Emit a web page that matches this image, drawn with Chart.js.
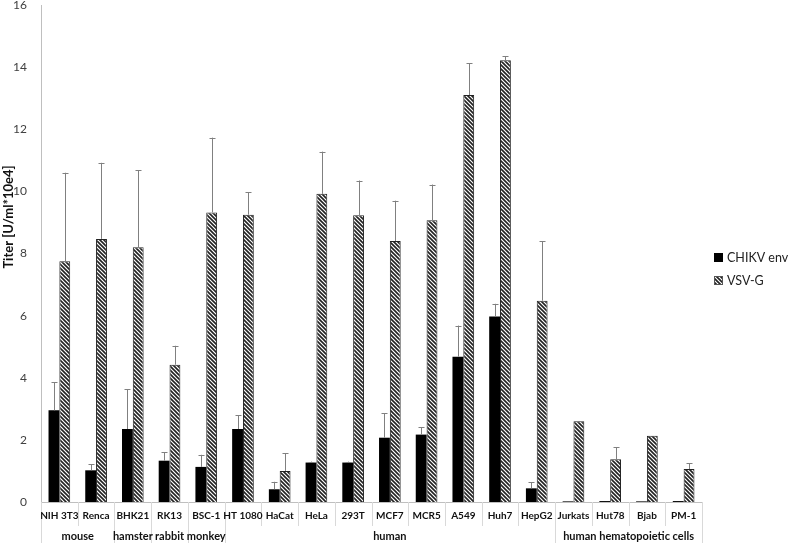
<!DOCTYPE html>
<html>
<head>
<meta charset="utf-8">
<script src="https://cdn.jsdelivr.net/npm/chart.js@4/dist/chart.umd.min.js"></script>
<style>
  html, body { margin: 0; padding: 0; background: #fff; }
  #wrap { width: 791px; height: 543px; }
</style>
</head>
<body>
<div id="wrap"><canvas id="titerChart"></canvas></div>
<script>
const cells = ["NIH 3T3", "Renca", "BHK21", "RK13", "BSC-1", "HT 1080", "HaCat", "HeLa", "293T",
  "MCF7", "MCR5", "A549", "Huh7", "HepG2", "Jurkats", "Hut78", "Bjab", "PM-1"];
const chikv = [2.95, 1.02, 2.35, 1.33, 1.13, 2.35, 0.41, 1.27, 1.27, 2.07, 2.17, 4.68, 5.97, 0.44, 0.02, 0.03, 0.02, 0.03];
const chikvErr = [0.9, 0.2, 1.28, 0.27, 0.39, 0.45, 0.24, 0.03, 0.03, 0.78, 0.24, 1.0, 0.41, 0.2, 0, 0, 0, 0];
const vsvg = [7.75, 8.47, 8.2, 4.42, 9.32, 9.25, 1.0, 9.92, 9.23, 8.4, 9.07, 13.1, 14.22, 6.48, 2.6, 1.38, 2.13, 1.06];
const vsvgErr = [2.85, 2.45, 2.48, 0.61, 2.41, 0.73, 0.57, 1.36, 1.12, 1.3, 1.15, 1.03, 0.13, 1.92, 0, 0.38, 0, 0.19];
// species groups: [label, first index, last index]
const groups = [["mouse", 0, 1], ["hamster", 2, 2], ["rabbit", 3, 3], ["monkey", 4, 4],
  ["human", 5, 13], ["human hematopoietic cells", 14, 17]];
const yTicks = [0, 2, 4, 6, 8, 10, 12, 14, 16];

const FONT = "Lato, 'Open Sans', sans-serif";

// diagonal hatch for VSV-G
function hatch() {
  const c = document.createElement("canvas");
  c.width = 4; c.height = 4;
  const g = c.getContext("2d");
  g.fillStyle = "#fff";
  g.fillRect(0, 0, 4, 4);
  g.strokeStyle = "#222";
  g.lineWidth = 1.6;
  g.beginPath();
  g.moveTo(-1, -1); g.lineTo(5, 5);
  g.moveTo(-1, 3); g.lineTo(1, 5);
  g.moveTo(3, -1); g.lineTo(5, 1);
  g.stroke();
  return g.createPattern(c, "repeat");
}
const hatchFill = hatch();

const extras = {
  id: "extras",
  afterDatasetsDraw(chart) {
    const ctx = chart.ctx;
    const y = chart.scales.y;
    // error bars (upper only)
    [chikvErr, vsvgErr].forEach((errs, di) => {
      const meta = chart.getDatasetMeta(di);
      meta.data.forEach((bar, i) => {
        if (!errs[i]) return;
        const val = chart.data.datasets[di].data[i];
        const top = y.getPixelForValue(val + errs[i]);
        ctx.save();
        ctx.strokeStyle = "#808080";
        ctx.lineWidth = 1;
        ctx.beginPath();
        ctx.moveTo(Math.round(bar.x) + 0.5, bar.y);
        ctx.lineTo(Math.round(bar.x) + 0.5, top);
        ctx.moveTo(Math.round(bar.x) - 2.5, Math.round(top) + 0.5);
        ctx.lineTo(Math.round(bar.x) + 3.5, Math.round(top) + 0.5);
        ctx.stroke();
        ctx.restore();
      });
    });
  },
  afterDraw(chart) {
    const ctx = chart.ctx;
    const x = chart.scales.x;
    const area = chart.chartArea;
    const step = (area.right - area.left) / cells.length;
    const base = area.bottom;
    ctx.save();
    // dividers
    ctx.strokeStyle = "#d9d9d9";
    ctx.lineWidth = 1;
    const groupEdges = new Set();
    groups.forEach(g => { groupEdges.add(g[1]); groupEdges.add(g[2] + 1); });
    for (let i = 0; i <= cells.length; i++) {
      const px = Math.round(area.left + i * step) + 0.5;
      ctx.beginPath();
      ctx.moveTo(px, base);
      ctx.lineTo(px, groupEdges.has(i) ? 543 : base + 24);
      ctx.stroke();
    }
    // category labels
    ctx.fillStyle = "#111";
    ctx.textAlign = "center";
    ctx.textBaseline = "middle";
    ctx.font = "bold 10px " + FONT;
    cells.forEach((c, i) => ctx.fillText(c, x.getPixelForValue(i), base + 14));
    // group labels
    ctx.font = "bold 11px " + FONT;
    groups.forEach(g => {
      const cx = (area.left + g[1] * step + area.left + (g[2] + 1) * step) / 2;
      ctx.fillText(g[0], cx, base + 34);
    });
    // y title
    ctx.save();
    ctx.translate(9, 217);
    ctx.rotate(-Math.PI / 2);
    ctx.font = "bold 13px " + FONT;
    ctx.fillText("Titer [U/ml*10e4]", 0, 0);
    ctx.restore();
    // legend
    ctx.textAlign = "left";
    ctx.font = "12.5px " + FONT;
    const lx = 714;
    ctx.fillStyle = "#000";
    ctx.fillRect(lx, 253, 9, 9);
    ctx.fillStyle = "#222";
    ctx.fillText("CHIKV env", lx + 13, 258);
    ctx.fillStyle = hatchFill;
    ctx.fillRect(lx, 276, 9, 9);
    ctx.strokeStyle = "#555";
    ctx.strokeRect(lx + 0.5, 276.5, 8, 8);
    ctx.fillStyle = "#222";
    ctx.fillText("VSV-G", lx + 13, 281);
    ctx.restore();
  }
};

new Chart(document.getElementById("titerChart"), {
  type: "bar",
  data: {
    labels: cells,
    datasets: [
      { label: "CHIKV env", data: chikv, backgroundColor: "#000", borderColor: "#000", borderWidth: 0,
        barPercentage: 1, categoryPercentage: 0.59 },
      { label: "VSV-G", data: vsvg, backgroundColor: hatchFill, borderColor: "#222", borderWidth: 1,
        barPercentage: 1, categoryPercentage: 0.59 }
    ]
  },
  options: {
    responsive: true,
    maintainAspectRatio: false,
    animation: false,
    layout: { padding: { top: 5, right: 89, left: 0, bottom: 0 } },
    plugins: { legend: { display: false }, tooltip: { enabled: false } },
    scales: {
      x: {
        ticks: { display: false },
        grid: { display: false },
        border: { color: "#bfbfbf" },
        afterFit: s => { s.height = 41; }
      },
      y: {
        min: 0, max: 16,
        afterBuildTicks: s => { s.ticks = yTicks.map(v => ({ value: v })); },
        ticks: { color: "#404040", font: { family: FONT, size: 12 }, padding: 6 },
        grid: { display: false },
        border: { color: "#bfbfbf" },
        afterFit: s => { s.width = 41; s.paddingTop = 0; s.paddingBottom = 0; }
      }
    }
  },
  plugins: [extras]
});
</script>
</body>
</html>
